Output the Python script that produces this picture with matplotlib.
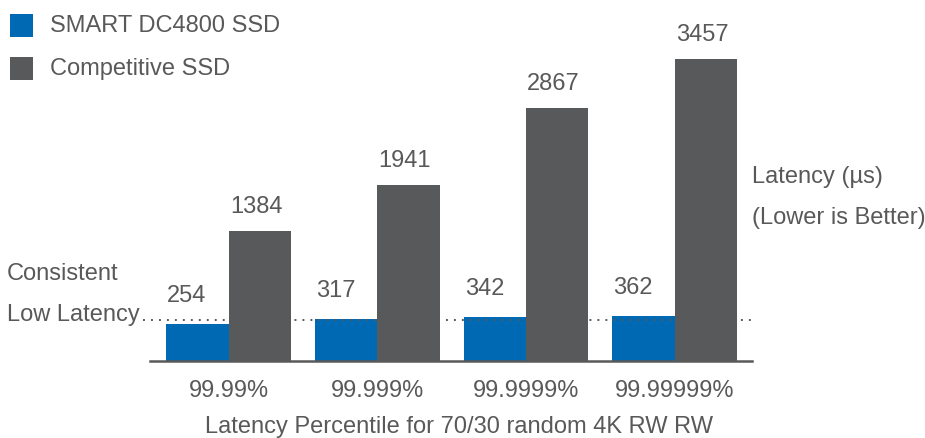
import matplotlib
matplotlib.use("Agg")
import matplotlib.pyplot as plt
from matplotlib.patches import Rectangle
from matplotlib.lines import Line2D
import numpy as np

# ---- data ----
percentiles = ["99.99%", "99.999%", "99.9999%", "99.99999%"]
smart_dc4800 = [254, 317, 342, 362]
competitive = [1384, 1941, 2867, 3457]
series_names = ["SMART DC4800 SSD", "Competitive SSD"]
consistent_level = 308  # level of dotted "consistent low latency" line

# ---- style ----
BLUE = "#0069B4"
GRAY = "#58595B"
TEXT = "#595959"
FS = 17
plt.rcParams["font.family"] = ["Liberation Sans", "DejaVu Sans"]

fig = plt.figure(figsize=(9.25, 4.38), dpi=100)
W, H = 925, 438
ax = fig.add_axes([150 / W, (H - 361) / H, 602 / W, 341 / H])

base = -187  # visual baseline of the bars in value units
x = np.arange(len(percentiles))
bw = 0.42
sm = np.array(smart_dc4800)
cp = np.array(competitive)
b1 = ax.bar(x - bw / 2, sm - base, bottom=base, width=bw, color=BLUE, zorder=2,
            label=series_names[0])
b2 = ax.bar(x + bw / 2, cp - base, bottom=base, width=bw, color=GRAY, zorder=2,
            label=series_names[1])

for xi, v in zip(x, sm):
    ax.annotate(f"{v}", xy=(xi - bw, v), xytext=(1, 22), textcoords="offset pixels",
                ha="left", va="baseline", fontsize=FS, color=TEXT)
for xi, v in zip(x, cp):
    ax.annotate(f"{v}", xy=(xi, v), xytext=(1, 18), textcoords="offset pixels",
                ha="left", va="baseline", fontsize=FS, color=TEXT)

ax.set_xlim(-0.53, 3.52)
ax.set_ylim(base, 3931)

# dotted reference line
ln = Line2D([-0.0116, 1.0017], [consistent_level, consistent_level],
            transform=ax.get_yaxis_transform(), color=TEXT, lw=1.4,
            linestyle=(0, (1, 3.1)), zorder=3, clip_on=False)
ax.add_line(ln)

for s in ["top", "right", "left"]:
    ax.spines[s].set_visible(False)
ax.spines["bottom"].set_color(TEXT)
ax.spines["bottom"].set_linewidth(1.8)
ax.spines["bottom"].set_zorder(4)
ax.set_yticks([])
ax.set_xticks(x, percentiles)
ax.tick_params(axis="x", length=0, pad=13.5, labelsize=FS, labelcolor=TEXT)

fig.text(459 / W, (H - 433) / H, "Latency Percentile for 70/30 random 4K RW RW",
         ha="center", va="baseline", fontsize=FS, color=TEXT)

fig.text(7 / W, (H - 280) / H, "Consistent", ha="left", va="baseline", fontsize=FS, color=TEXT)
fig.text(7 / W, (H - 321) / H, "Low Latency", ha="left", va="baseline", fontsize=FS, color=TEXT)
fig.text(752 / W, (H - 183) / H, "Latency (µs)", ha="left", va="baseline", fontsize=FS, color=TEXT)
fig.text(752 / W, (H - 224) / H, "(Lower is Better)", ha="left", va="baseline", fontsize=FS, color=TEXT)

# legend (drawn manually for exact placement)
for (top, color, name) in [(14, BLUE, series_names[0]), (57, GRAY, series_names[1])]:
    fig.add_artist(Rectangle((10 / W, (H - top - 23) / H), 23 / W, 23 / H,
                             transform=fig.transFigure, facecolor=color, edgecolor="none"))
    fig.text(50 / W, (H - top - 18) / H, name, ha="left", va="baseline",
             fontsize=FS, color=TEXT)

fig.savefig("out.png", dpi=100)
